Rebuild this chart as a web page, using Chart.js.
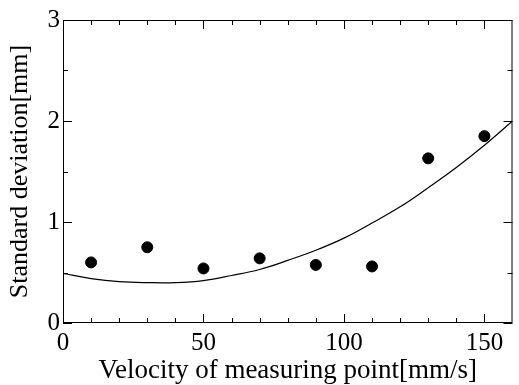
<!DOCTYPE html>
<html lang="en">
<head>
    <meta charset="UTF-8">
    <title>Standard deviation</title>
    <script src="https://cdn.jsdelivr.net/npm/chart.js"></script>
    <style>
        body { margin:0; background:#fff; }
    </style>
</head>
<body>
    <canvas id="myChart" width="519" height="385"></canvas>

    <script>
        // measured points
        const velocity = [10, 30, 50, 70, 90, 110, 130, 150];
        const stdDev = [0.60, 0.75, 0.54, 0.64, 0.575, 0.56, 1.63, 1.85];

        // fitted curve
        const fitX = [0, 10, 20, 30, 40, 50, 60, 70, 80, 90, 100, 110, 120, 130, 140, 150, 160];
        const fitY = [0.49, 0.44, 0.41, 0.40, 0.40, 0.42, 0.47, 0.53, 0.62, 0.72, 0.84, 0.99, 1.15, 1.34, 1.54, 1.76, 2.00];

        // tick labels
        const xTicks = [0, 50, 100, 150];
        const yTicks = [0, 1, 2, 3];
        const xMinor = [10, 20, 30, 40, 60, 70, 80, 90, 110, 120, 130, 140];
        const yMinor = [0.5, 1.5, 2.5];

        const serif = "'Liberation Serif', 'Times New Roman', serif";

        // frame + inward ticks on all four sides
        const frameTicks = {
            id: 'frameTicks',
            afterDraw(chart) {
                const {ctx, chartArea: a, scales: {x, y}} = chart;
                ctx.save();
                ctx.strokeStyle = '#000';
                ctx.lineWidth = 1;
                ctx.strokeRect(a.left + 0.5, a.top + 0.5, a.right - a.left - 1, a.bottom - a.top - 1);
                ctx.beginPath();
                const tx = (v, len) => {
                    const px = Math.round(x.getPixelForValue(v)) + 0.5;
                    ctx.moveTo(px, a.bottom); ctx.lineTo(px, a.bottom - len);
                    ctx.moveTo(px, a.top); ctx.lineTo(px, a.top + len);
                };
                const ty = (v, len) => {
                    const py = Math.round(y.getPixelForValue(v)) + 0.5;
                    ctx.moveTo(a.left, py); ctx.lineTo(a.left + len, py);
                    ctx.moveTo(a.right, py); ctx.lineTo(a.right - len, py);
                };
                xTicks.forEach(v => tx(v, 9));
                xMinor.forEach(v => tx(v, 5));
                yTicks.forEach(v => ty(v, 9));
                yMinor.forEach(v => ty(v, 5));
                ctx.stroke();
                ctx.restore();
            }
        };

        var ctx = document.querySelector('#myChart').getContext('2d');
        var myChart = new Chart(ctx, {
            type: 'scatter',
            data: {
                datasets: [{
                    label: 'measured',
                    data: velocity.map((v, i) => ({x: v, y: stdDev[i]})),
                    backgroundColor: '#000',
                    borderColor: '#000',
                    pointRadius: 5.5,
                    showLine: false
                }, {
                    label: 'fit',
                    data: fitX.map((v, i) => ({x: v, y: fitY[i]})),
                    borderColor: '#000',
                    borderWidth: 1.2,
                    pointRadius: 0,
                    showLine: true,
                    tension: 0.4,
                    fill: false
                }]
            },
            options: {
                responsive: false,
                animation: false,
                layout: { padding: { top: 20, right: 1, left: 0, bottom: 0 } },
                plugins: {
                    legend: { display: false },
                    tooltip: { enabled: false }
                },
                scales: {
                    x: {
                        type: 'linear',
                        min: 0, max: 160,
                        grid: { display: false, drawTicks: false },
                        border: { display: false },
                        afterBuildTicks: s => { s.ticks = xTicks.map(v => ({value: v})); },
                        afterFit: s => { s.height = 62; },
                        ticks: { color: '#000', padding: 5, maxRotation: 0, font: { family: serif, size: 25 } },
                        title: {
                            display: true,
                            text: 'Velocity of measuring point[mm/s]',
                            color: '#000',
                            padding: { top: 0, bottom: -2 },
                            font: { family: serif, size: 27 }
                        }
                    },
                    y: {
                        type: 'linear',
                        min: 0, max: 3,
                        grid: { display: false, drawTicks: false },
                        border: { display: false },
                        afterBuildTicks: s => { s.ticks = yTicks.map(v => ({value: v})); },
                        afterFit: s => { s.width = 63; },
                        ticks: { color: '#000', padding: 3, font: { family: serif, size: 25 } },
                        title: {
                            display: true,
                            text: 'Standard deviation[mm]',
                            color: '#000',
                            padding: { top: 5, bottom: 0 },
                            font: { family: serif, size: 26 }
                        }
                    }
                }
            },
            plugins: [frameTicks]
        });
    </script>
</body>
</html>
